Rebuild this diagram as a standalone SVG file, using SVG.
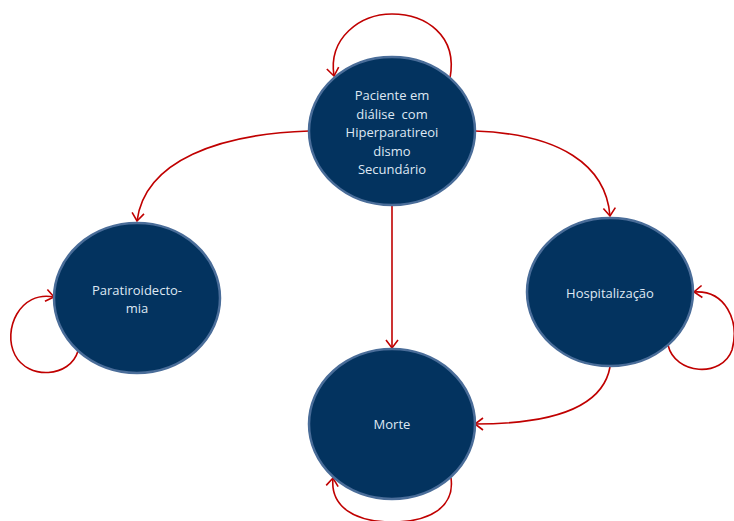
<svg xmlns="http://www.w3.org/2000/svg" width="734" height="521" viewBox="0 0 734 521">
<style>
.node ellipse{fill:#03335f;stroke:#4a6d99;stroke-width:2.5}
.node text{fill:#dfe8f3;font-family:"Open Sans","Liberation Sans",sans-serif;font-size:13px;text-anchor:middle;white-space:pre}
.edge{fill:none;stroke:#c00000;stroke-width:1.6;marker-end:url(#arr)}
</style>
<defs>
<marker id="arr" markerUnits="userSpaceOnUse" markerWidth="16" markerHeight="16" refX="10" refY="8" orient="auto">
<path d="M2 2 L10 8 L2 14" fill="none" stroke="#c00000" stroke-width="1.6"/>
</marker>
</defs>
<rect width="734" height="521" fill="#ffffff"/>
<g id="connectors">
<path class="edge" d="M450 78 C458 35 425 14 392 14 C360 14 328 38 334 76"/>
<path class="edge" d="M309 131 C220 134 145 160 137 221"/>
<path class="edge" d="M475 131 C560 134 606 165 610 216"/>
<path class="edge" d="M392 206 L392 348"/>
<path class="edge" d="M610 367 C602 412 540 424 475 424"/>
<path class="edge" d="M78 351 C70 378 28 380 15 355 C2 330 20 290 54 297"/>
<path class="edge" d="M668 345 C675 375 722 378 732 350 C740 320 725 290 694 292"/>
<path class="edge" d="M451 478 C455 507 430 522 392 522 C355 522 330 507 333 478"/>
</g>
<g id="paciente" class="node">
<ellipse cx="392" cy="131" rx="83" ry="74"/>
<text x="392" y="100">Paciente em</text>
<text x="392" y="119" xml:space="preserve">diálise  com</text>
<text x="392" y="137">Hiperparatireoi</text>
<text x="392" y="156">dismo</text>
<text x="392" y="174">Secundário</text>
</g>
<g id="paratiroidectomia" class="node">
<ellipse cx="137" cy="298" rx="83" ry="75"/>
<text x="137" y="295">Paratiroidecto-</text>
<text x="137" y="313">mia</text>
</g>
<g id="hospitalizacao" class="node">
<ellipse cx="610" cy="292" rx="83" ry="74"/>
<text x="610" y="298">Hospitalização</text>
</g>
<g id="morte" class="node">
<ellipse cx="392" cy="424" rx="83" ry="75"/>
<text x="392" y="429">Morte</text>
</g>
</svg>
